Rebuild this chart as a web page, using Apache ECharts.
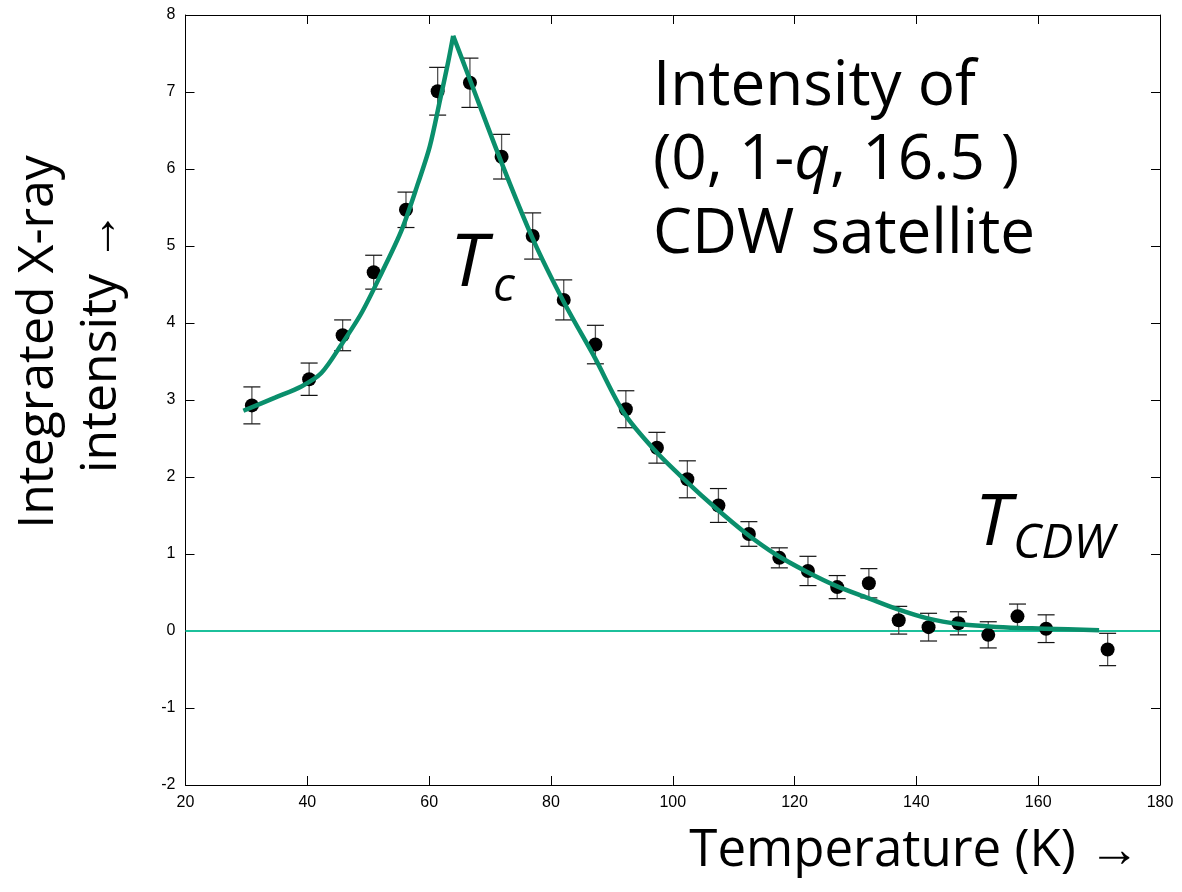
<!DOCTYPE html>
<html>
<head>
<meta charset="utf-8">
<script src="https://cdn.jsdelivr.net/npm/echarts@6/dist/echarts.min.js"></script>
<style>html,body{margin:0;padding:0;background:#fff;}#c{width:1182px;height:892px;}</style>
</head>
<body>
<div id="c"></div>
<script>
// Measured points
const temps = [30.9, 40.3, 45.8, 50.9, 56.2, 61.4, 66.7, 71.9, 77.0, 82.1, 87.3, 92.3, 97.4, 102.4, 107.5, 112.5, 117.5, 122.2, 127.0, 132.2, 137.1, 142.0, 146.9, 151.8, 156.6, 161.3, 171.4];
const intensity = [2.93, 3.27, 3.84, 4.66, 5.47, 7.01, 7.12, 6.16, 5.13, 4.30, 3.72, 2.88, 2.38, 1.97, 1.63, 1.26, 0.95, 0.78, 0.57, 0.62, 0.14, 0.05, 0.10, -0.05, 0.19, 0.03, -0.24];
const errors = [0.24, 0.21, 0.20, 0.22, 0.23, 0.31, 0.32, 0.29, 0.30, 0.26, 0.25, 0.24, 0.20, 0.24, 0.22, 0.16, 0.13, 0.19, 0.15, 0.19, 0.18, 0.18, 0.15, 0.17, 0.16, 0.18, 0.21];
// Fitted curve (two branches meeting at the cusp)
const fitLeftT = [29.5, 34.7, 39.1, 42.3, 45.6, 48.9, 52.2, 55.5, 58.2, 60.1, 61.8, 63.1, 63.95];
const fitLeftI = [2.86, 3.03, 3.18, 3.35, 3.72, 4.13, 4.65, 5.21, 5.82, 6.29, 6.90, 7.38, 7.73];
const fitRightT = [63.95, 66.7, 71.9, 77.1, 82.2, 87.2, 92, 97, 102, 107, 112, 117, 122, 127, 132, 137, 142, 147, 152, 157, 161, 170];
const fitRightI = [7.73, 7.16, 6.08, 5.08, 4.26, 3.55, 2.83, 2.35, 1.96, 1.60, 1.27, 0.99, 0.77, 0.58, 0.43, 0.28, 0.16, 0.09, 0.06, 0.04, 0.03, 0.01];
// Axis ticks
const xTicks = [20, 180, 20];
const yTicks = [-2, 8, 1];

const pts = temps.map((t, i) => [t, intensity[i], errors[i]]);
const left = fitLeftT.map((t, i) => [t, fitLeftI[i]]);
const right = fitRightT.map((t, i) => [t, fitRightI[i]]);

const FIT = '#0a8f6c';
const ZERO = '#1cc09b';
const lblFont = 'Liberation Sans, Arial, sans-serif';
const annFont = 'Open Sans, Noto Sans, sans-serif';

const chart = echarts.init(document.getElementById('c'));
const tickCommon = {show: true, inside: true, length: 9, lineStyle: {color: '#000', width: 1}};
chart.setOption({
  animation: false,
  backgroundColor: '#fff',
  grid: {left: 185.5, right: 22, top: 15, bottom: 107, containLabel: false},
  xAxis: [
    {type: 'value', min: xTicks[0], max: xTicks[1], interval: xTicks[2], position: 'bottom',
     axisLine: {show: true, onZero: false, lineStyle: {color: '#000', width: 1}},
     axisTick: tickCommon, splitLine: {show: false},
     axisLabel: {color: '#000', fontFamily: lblFont, fontSize: 16, margin: 10}},
    {type: 'value', min: xTicks[0], max: xTicks[1], interval: xTicks[2], position: 'top',
     axisLine: {show: true, onZero: false, lineStyle: {color: '#000', width: 1}},
     axisTick: tickCommon, splitLine: {show: false}, axisLabel: {show: false}}
  ],
  yAxis: [
    {type: 'value', min: yTicks[0], max: yTicks[1], interval: yTicks[2], position: 'left',
     axisLine: {show: true, onZero: false, lineStyle: {color: '#000', width: 1}},
     axisTick: tickCommon, splitLine: {show: false},
     axisLabel: {color: '#000', fontFamily: lblFont, fontSize: 16, margin: 10}},
    {type: 'value', min: yTicks[0], max: yTicks[1], interval: yTicks[2], position: 'right',
     axisLine: {show: true, onZero: false, lineStyle: {color: '#000', width: 1}},
     axisTick: tickCommon, splitLine: {show: false}, axisLabel: {show: false}}
  ],
  series: [
    {type: 'line', data: [[xTicks[0], 0], [xTicks[1], 0]], symbol: 'none',
     lineStyle: {color: ZERO, width: 2}, z: 1},
    {type: 'custom', z: 3,
     renderItem: function (params, api) {
       const x = api.value(0), y = api.value(1), e = api.value(2);
       const top = api.coord([x, y + e]);
       const bot = api.coord([x, y - e]);
       const hw = 8.5;
       const stv = {stroke: '#555', lineWidth: 1.3};
       const stc = {stroke: '#111', lineWidth: 1.2};
       return {type: 'group', children: [
         {type: 'line', shape: {x1: top[0], y1: top[1], x2: bot[0], y2: bot[1]}, style: stv},
         {type: 'line', shape: {x1: top[0] - hw, y1: top[1], x2: top[0] + hw, y2: top[1]}, style: stc},
         {type: 'line', shape: {x1: bot[0] - hw, y1: bot[1], x2: bot[0] + hw, y2: bot[1]}, style: stc}
       ]};
     },
     encode: {x: 0, y: 1},
     data: pts},
    {type: 'scatter', data: pts.map(p => [p[0], p[1]]), symbol: 'circle', symbolSize: 14,
     itemStyle: {color: '#000', opacity: 1}, z: 4},
    {type: 'line', data: left, smooth: 0.3, symbol: 'none',
     lineStyle: {color: FIT, width: 4.5}, z: 5},
    {type: 'line', data: right, smooth: 0.3, symbol: 'none',
     lineStyle: {color: FIT, width: 4.5}, z: 5}
  ],
  graphic: [
    {type: 'text', left: 653, top: 50, z: 10,
     style: {text: 'Intensity of\n(0, 1-{i|q}, 16.5 )\nCDW satellite', fontFamily: annFont, fontSize: 62,
       lineHeight: 74, fill: '#000',
       rich: {i: {fontStyle: 'italic', fontFamily: annFont, fontSize: 62, lineHeight: 74}}}},
    {type: 'text', left: 450, top: 228, z: 10,
     style: {text: '{t|T}{s|c}', fill: '#000',
       rich: {t: {fontStyle: 'italic', fontFamily: annFont, fontSize: 74},
              s: {fontStyle: 'italic', fontFamily: annFont, fontSize: 48, padding: [44, 0, 0, 6]}}}},
    {type: 'text', left: 975, top: 488, z: 10,
     style: {text: '{t|T}{s|CDW}', fill: '#000',
       rich: {t: {fontStyle: 'italic', fontFamily: annFont, fontSize: 72},
              s: {fontStyle: 'italic', fontFamily: annFont, fontSize: 48, padding: [40, 0, 0, 2]}}}},
    {type: 'text', x: 70, y: 342, rotation: Math.PI / 2, z: 10,
     style: {text: 'Integrated X-ray\nintensity \u2192', fontFamily: annFont, fontSize: 50, lineHeight: 63,
       fill: '#000', align: 'center', verticalAlign: 'middle'}},
    {type: 'text', right: 42, top: 826, z: 10,
     style: {text: 'Temperature (K) \u2192', fontFamily: annFont, fontSize: 51, fill: '#000'}}
  ]
});
</script>
</body>
</html>
